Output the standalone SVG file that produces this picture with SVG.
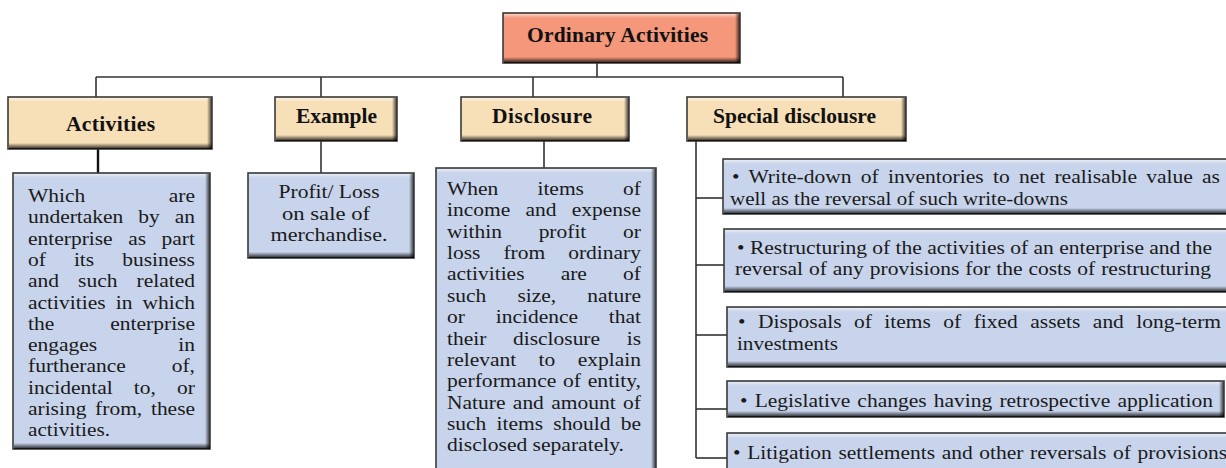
<svg xmlns="http://www.w3.org/2000/svg" width="1226" height="468" viewBox="0 0 1226 468">
<defs>
<linearGradient id="gB" x1="0" y1="0" x2="0" y2="1"><stop offset="0" stop-color="#000" stop-opacity="0"/><stop offset="1" stop-color="#000" stop-opacity="0.85"/></linearGradient>
<linearGradient id="gR" x1="0" y1="0" x2="1" y2="0"><stop offset="0" stop-color="#000" stop-opacity="0"/><stop offset="1" stop-color="#000" stop-opacity="0.7"/></linearGradient>
<linearGradient id="gT" x1="0" y1="0" x2="0" y2="1"><stop offset="0" stop-color="#fff" stop-opacity="0.55"/><stop offset="1" stop-color="#fff" stop-opacity="0"/></linearGradient>
</defs>
<style>
.salmon{fill:#F4977B;stroke:#3a3a3a;stroke-width:1.6}
.wheat{fill:#F7DFB8;stroke:#3a3a3a;stroke-width:1.6}
.blue{fill:#C8D4EB;stroke:#3a3a3a;stroke-width:1.6}
.sb{fill:url(#gB)}
.sr{fill:url(#gR)}
.st{fill:url(#gT)}
.h{font-family:"Liberation Serif","Times New Roman",serif;font-weight:bold;font-size:21.5px;fill:#111}
.t{font-family:"Liberation Serif","Times New Roman",serif;font-size:19px;fill:#1a1a1a}
.s{font-family:"Liberation Serif","Times New Roman",serif;font-size:19px;fill:#1a1a1a}
.c{text-anchor:middle}
#connectors path{fill:none;stroke:#333;stroke-width:1.6}
</style>

<g id="connectors">
<path d="M597 63V77"/>
<path d="M96 77H843"/>
<path d="M96 77V97"/>
<path d="M321 77V97"/>
<path d="M533 77V97"/>
<path d="M843 77V97"/>
<path d="M98 149V173" style="stroke:#111;stroke-width:2.4"/>
<path d="M321 141V173"/>
<path d="M544 141V168"/>
<path d="M696 141V458"/>
<path d="M696 198H723"/>
<path d="M696 265H724"/>
<path d="M696 335H727"/>
<path d="M696 409H727"/>
<path d="M696 458H727"/>
</g>

<g id="ordinary-activities">
<rect class="salmon" x="503" y="13" width="237" height="50"/>
<rect class="st" x="504" y="14" width="235" height="4"/>
<rect class="sr" x="735" y="14" width="4.5" height="49"/>
<rect class="sb" x="504" y="57" width="236" height="6"/>
<text class="h c" x="617.5" y="42" textLength="181" lengthAdjust="spacing">Ordinary Activities</text>
</g>

<g id="activities">
<rect class="wheat" x="8" y="97" width="204" height="52"/>
<rect class="st" x="9" y="98" width="202" height="4"/>
<rect class="sr" x="207" y="98" width="4.5" height="51"/>
<rect class="sb" x="9" y="143" width="203" height="6"/>
<text class="h c" x="110.5" y="131" textLength="89" lengthAdjust="spacing">Activities</text>
</g>

<g id="example">
<rect class="wheat" x="275" y="97" width="122" height="44"/>
<rect class="st" x="276" y="98" width="120" height="4"/>
<rect class="sr" x="392" y="98" width="4.5" height="43"/>
<rect class="sb" x="276" y="135" width="121" height="6"/>
<text class="h c" x="336.5" y="123" textLength="81" lengthAdjust="spacing">Example</text>
</g>

<g id="disclosure">
<rect class="wheat" x="461" y="97" width="168" height="44"/>
<rect class="st" x="462" y="98" width="166" height="4"/>
<rect class="sr" x="624" y="98" width="4.5" height="43"/>
<rect class="sb" x="462" y="135" width="167" height="6"/>
<text class="h c" x="542" y="123" textLength="100" lengthAdjust="spacing">Disclosure</text>
</g>

<g id="special-disclosure">
<rect class="wheat" x="687" y="97" width="219" height="44"/>
<rect class="st" x="688" y="98" width="217" height="4"/>
<rect class="sr" x="901" y="98" width="4.5" height="43"/>
<rect class="sb" x="688" y="135" width="218" height="6"/>
<text class="h c" x="794.5" y="123" textLength="163" lengthAdjust="spacing">Special disclousre</text>
</g>

<g id="activities-text">
<rect class="blue" x="13" y="173" width="197" height="276"/>
<rect class="st" x="14" y="174" width="195" height="4"/>
<rect class="sr" x="205" y="174" width="4.5" height="275"/>
<rect class="sb" x="14" y="443" width="196" height="6"/>
<text class="t" x="28" y="202" textLength="167" lengthAdjust="spacingAndGlyphs" word-spacing="69.2">Which are</text>
<text class="t" x="28" y="223.3" textLength="167" lengthAdjust="spacingAndGlyphs" word-spacing="8.5">undertaken by an</text>
<text class="t" x="28" y="244.6" textLength="167" lengthAdjust="spacingAndGlyphs" word-spacing="9">enterprise as part</text>
<text class="t" x="28" y="265.9" textLength="167" lengthAdjust="spacingAndGlyphs" word-spacing="20">of its business</text>
<text class="t" x="28" y="287.2" textLength="167" lengthAdjust="spacingAndGlyphs" word-spacing="12.1">and such related</text>
<text class="t" x="28" y="308.5" textLength="167" lengthAdjust="spacingAndGlyphs" word-spacing="4.2">activities in which</text>
<text class="t" x="28" y="329.8" textLength="167" lengthAdjust="spacingAndGlyphs" word-spacing="44.9">the enterprise</text>
<text class="t" x="28" y="351.1" textLength="167" lengthAdjust="spacingAndGlyphs" word-spacing="67">engages in</text>
<text class="t" x="28" y="372.4" textLength="167" lengthAdjust="spacingAndGlyphs" word-spacing="36">furtherance of,</text>
<text class="t" x="28" y="393.7" textLength="167" lengthAdjust="spacingAndGlyphs" word-spacing="14">incidental to, or</text>
<text class="t" x="28" y="415" textLength="167" lengthAdjust="spacingAndGlyphs" word-spacing="3">arising from, these</text>
<text class="t" x="28" y="436.3" textLength="82" lengthAdjust="spacingAndGlyphs">activities.</text>
</g>

<g id="example-text">
<rect class="blue" x="248" y="173" width="166" height="85"/>
<rect class="st" x="249" y="174" width="164" height="4"/>
<rect class="sr" x="409" y="174" width="4.5" height="84"/>
<rect class="sb" x="249" y="252" width="165" height="6"/>
<text class="t c" x="329" y="198" textLength="101" lengthAdjust="spacingAndGlyphs">Profit/ Loss</text>
<text class="t c" x="326" y="219.5" textLength="88" lengthAdjust="spacingAndGlyphs">on sale of</text>
<text class="t c" x="329" y="241" textLength="117" lengthAdjust="spacingAndGlyphs">merchandise.</text>
</g>

<g id="disclosure-text">
<rect class="blue" x="436" y="168" width="220" height="312"/>
<rect class="st" x="437" y="169" width="218" height="4"/>
<rect class="sr" x="651" y="169" width="4.5" height="311"/>
<text class="t" x="447" y="195" textLength="194" lengthAdjust="spacingAndGlyphs" word-spacing="29.9">When items of</text>
<text class="t" x="447" y="216.4" textLength="194" lengthAdjust="spacingAndGlyphs" word-spacing="8.8">income and expense</text>
<text class="t" x="447" y="237.7" textLength="194" lengthAdjust="spacingAndGlyphs" word-spacing="27.8">within profit or</text>
<text class="t" x="447" y="259" textLength="194" lengthAdjust="spacingAndGlyphs" word-spacing="15.6">loss from ordinary</text>
<text class="t" x="447" y="280.4" textLength="194" lengthAdjust="spacingAndGlyphs" word-spacing="27.3">activities are of</text>
<text class="t" x="447" y="301.8" textLength="194" lengthAdjust="spacingAndGlyphs" word-spacing="22.8">such size, nature</text>
<text class="t" x="447" y="323.1" textLength="194" lengthAdjust="spacingAndGlyphs" word-spacing="22.5">or incidence that</text>
<text class="t" x="447" y="344.5" textLength="194" lengthAdjust="spacingAndGlyphs" word-spacing="18.8">their disclosure is</text>
<text class="t" x="447" y="365.8" textLength="194" lengthAdjust="spacingAndGlyphs" word-spacing="15.1">relevant to explain</text>
<text class="t" x="447" y="387.2" textLength="194" lengthAdjust="spacingAndGlyphs" word-spacing="1.1">performance of entity,</text>
<text class="t" x="447" y="408.5" textLength="194" lengthAdjust="spacingAndGlyphs" word-spacing="1.8">Nature and amount of</text>
<text class="t" x="447" y="429.9" textLength="194" lengthAdjust="spacingAndGlyphs" word-spacing="4.3">such items should be</text>
<text class="t" x="447" y="451.2" textLength="177" lengthAdjust="spacingAndGlyphs">disclosed separately.</text>
</g>

<g id="write-down">
<rect class="blue" x="723" y="159" width="520" height="55"/>
<rect class="st" x="724" y="160" width="518" height="4"/>
<rect class="sb" x="724" y="208" width="519" height="6"/>
<text class="s" x="732" y="183" textLength="488" lengthAdjust="spacingAndGlyphs" word-spacing="3.4">• Write-down of inventories to net realisable value as</text>
<text class="s" x="730" y="204.5" textLength="338" lengthAdjust="spacingAndGlyphs">well as the reversal of such write-downs</text>
</g>

<g id="restructuring">
<rect class="blue" x="724" y="229" width="520" height="63"/>
<rect class="st" x="725" y="230" width="518" height="4"/>
<rect class="sb" x="725" y="286" width="519" height="6"/>
<text class="s" x="737" y="253.5" textLength="475" lengthAdjust="spacingAndGlyphs">• Restructuring of the activities of an enterprise and the</text>
<text class="s" x="735" y="274.7" textLength="476" lengthAdjust="spacingAndGlyphs" word-spacing="0.5">reversal of any provisions for the costs of restructuring</text>
</g>

<g id="disposals">
<rect class="blue" x="727" y="307" width="520" height="60"/>
<rect class="st" x="728" y="308" width="518" height="4"/>
<rect class="sb" x="728" y="361" width="519" height="6"/>
<text class="s" x="738" y="328" textLength="483" lengthAdjust="spacingAndGlyphs" word-spacing="6.3">• Disposals of items of fixed assets and long-term</text>
<text class="s" x="737" y="350" textLength="101" lengthAdjust="spacingAndGlyphs">investments</text>
</g>

<g id="legislative">
<rect class="blue" x="727" y="381" width="497" height="36"/>
<rect class="st" x="728" y="382" width="495" height="4"/>
<rect class="sr" x="1219" y="382" width="4.5" height="35"/>
<rect class="sb" x="728" y="411" width="496" height="6"/>
<text class="s" x="740" y="407" textLength="473" lengthAdjust="spacingAndGlyphs" word-spacing="1.6">• Legislative changes having retrospective application</text>
</g>

<g id="litigation">
<rect class="blue" x="727" y="433" width="520" height="50"/>
<rect class="st" x="728" y="434" width="518" height="4"/>
<text class="s" x="733" y="459" textLength="494" lengthAdjust="spacingAndGlyphs" word-spacing="1.1">• Litigation settlements and other reversals of provisions</text>
</g>
</svg>
